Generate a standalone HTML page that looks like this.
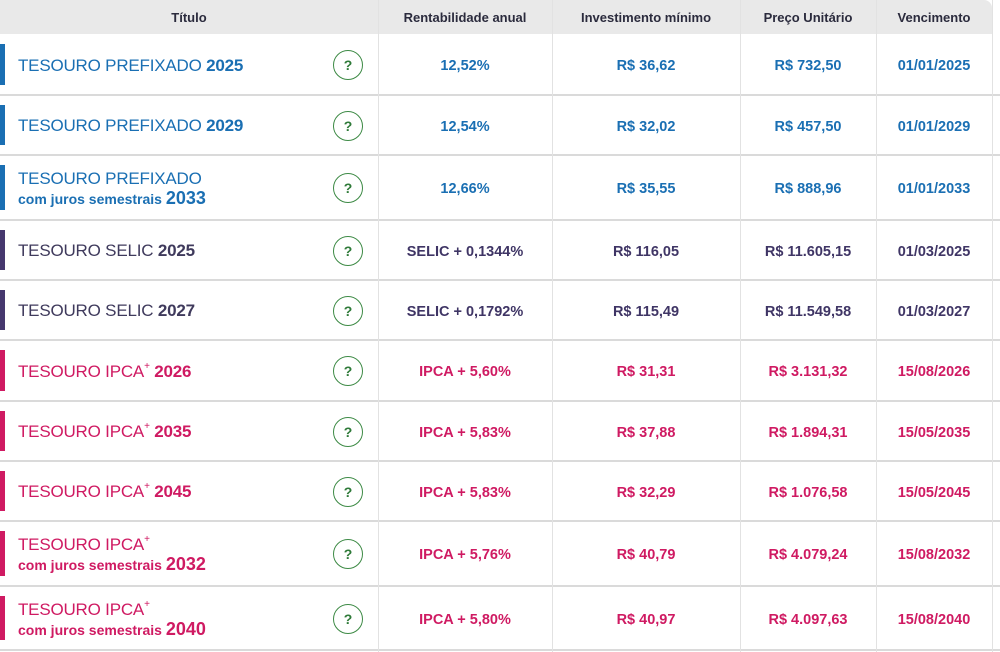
<!DOCTYPE html>
<html><head><meta charset="utf-8"><style>
*{margin:0;padding:0;box-sizing:border-box}
body{width:1000px;height:652px;background:#fff;font-family:"Liberation Sans",sans-serif;position:relative;overflow:hidden}
.hdr{position:absolute;left:0;top:0;width:992px;height:34px;background:#e9e9e9;border-top-right-radius:8px}
.h{position:absolute;top:0;height:34px;display:flex;align-items:center;justify-content:center;font-size:13px;font-weight:bold;color:#2b2b3d}
.v{position:absolute;top:0;width:1px;height:652px;background:#e2e2e2}
.row{position:absolute;left:0;width:1000px;border-bottom:2px solid #dadada}
.bar{position:absolute;left:0;width:5px;top:10px;bottom:9px}
.t{position:absolute;left:18px;top:3px;bottom:0;display:flex;flex-direction:column;justify-content:center;font-size:17px;line-height:20px;letter-spacing:-0.2px}
.t b{font-weight:bold}
.t .s{font-size:14px;font-weight:bold;line-height:18px;letter-spacing:0}
.t .s b{font-size:18px}
.t sup{font-size:10px;vertical-align:8px;line-height:0}
.q{position:absolute;left:333px;top:50%;margin-top:-14px;width:30px;height:30px;border:1.3px solid #3d8a45;border-radius:50%;color:#2e7a38;font-weight:bold;font-size:14px;display:flex;align-items:center;justify-content:center}
.c{position:absolute;top:4px;bottom:0;display:flex;align-items:center;justify-content:center;font-size:14.5px;font-weight:bold}
.c1{left:378px;width:174px}.c2{left:552px;width:188px}.c3{left:740px;width:136px}.c4{left:876px;width:116px}
.B{color:#1a6fb3}.B .bar{background:#1a6fb3}
.P{color:#3f3565}.P .bar{background:#46386e}
.R{color:#cf1a62}.R .bar{background:#cf1a62}
.P .t{color:#3f3a5c}
</style></head><body>
<div class="hdr"></div>
<div class="h" style="left:0;width:378px">Título</div>
<div class="h" style="left:378px;width:174px">Rentabilidade anual</div>
<div class="h" style="left:552px;width:188px">Investimento mínimo</div>
<div class="h" style="left:740px;width:136px">Preço Unitário</div>
<div class="h" style="left:876px;width:116px">Vencimento</div>

<div class="row B" style="top:34px;height:62px"><div class="bar"></div><div class="t"><span>TESOURO PREFIXADO <b>2025</b></span></div><div class="q">?</div><div class="c c1">12,52%</div><div class="c c2">R$ 36,62</div><div class="c c3">R$ 732,50</div><div class="c c4">01/01/2025</div></div>
<div class="row B" style="top:95px;height:61px"><div class="bar"></div><div class="t"><span>TESOURO PREFIXADO <b>2029</b></span></div><div class="q">?</div><div class="c c1">12,54%</div><div class="c c2">R$ 32,02</div><div class="c c3">R$ 457,50</div><div class="c c4">01/01/2029</div></div>
<div class="row B" style="top:155px;height:66px"><div class="bar"></div><div class="t"><span>TESOURO PREFIXADO</span><span class="s">com juros semestrais <b>2033</b></span></div><div class="q">?</div><div class="c c1">12,66%</div><div class="c c2">R$ 35,55</div><div class="c c3">R$ 888,96</div><div class="c c4">01/01/2033</div></div>
<div class="row P" style="top:220px;height:61px"><div class="bar"></div><div class="t"><span>TESOURO SELIC <b>2025</b></span></div><div class="q">?</div><div class="c c1">SELIC + 0,1344%</div><div class="c c2">R$ 116,05</div><div class="c c3">R$ 11.605,15</div><div class="c c4">01/03/2025</div></div>
<div class="row P" style="top:280px;height:61px"><div class="bar"></div><div class="t"><span>TESOURO SELIC <b>2027</b></span></div><div class="q">?</div><div class="c c1">SELIC + 0,1792%</div><div class="c c2">R$ 115,49</div><div class="c c3">R$ 11.549,58</div><div class="c c4">01/03/2027</div></div>
<div class="row R" style="top:340px;height:62px"><div class="bar"></div><div class="t"><span>TESOURO IPCA<sup>+</sup> <b>2026</b></span></div><div class="q">?</div><div class="c c1">IPCA + 5,60%</div><div class="c c2">R$ 31,31</div><div class="c c3">R$ 3.131,32</div><div class="c c4">15/08/2026</div></div>
<div class="row R" style="top:401px;height:61px"><div class="bar"></div><div class="t"><span>TESOURO IPCA<sup>+</sup> <b>2035</b></span></div><div class="q">?</div><div class="c c1">IPCA + 5,83%</div><div class="c c2">R$ 37,88</div><div class="c c3">R$ 1.894,31</div><div class="c c4">15/05/2035</div></div>
<div class="row R" style="top:461px;height:61px"><div class="bar"></div><div class="t"><span>TESOURO IPCA<sup>+</sup> <b>2045</b></span></div><div class="q">?</div><div class="c c1">IPCA + 5,83%</div><div class="c c2">R$ 32,29</div><div class="c c3">R$ 1.076,58</div><div class="c c4">15/05/2045</div></div>
<div class="row R" style="top:521px;height:66px"><div class="bar"></div><div class="t"><span>TESOURO IPCA<sup>+</sup></span><span class="s">com juros semestrais <b>2032</b></span></div><div class="q">?</div><div class="c c1">IPCA + 5,76%</div><div class="c c2">R$ 40,79</div><div class="c c3">R$ 4.079,24</div><div class="c c4">15/08/2032</div></div>
<div class="row R" style="top:586px;height:65px"><div class="bar"></div><div class="t"><span>TESOURO IPCA<sup>+</sup></span><span class="s">com juros semestrais <b>2040</b></span></div><div class="q">?</div><div class="c c1">IPCA + 5,80%</div><div class="c c2">R$ 40,97</div><div class="c c3">R$ 4.097,63</div><div class="c c4">15/08/2040</div></div>

<div class="v" style="left:378px"></div>
<div class="v" style="left:552px"></div>
<div class="v" style="left:740px"></div>
<div class="v" style="left:876px"></div>
<div class="v" style="left:992px"></div>
</body></html>
